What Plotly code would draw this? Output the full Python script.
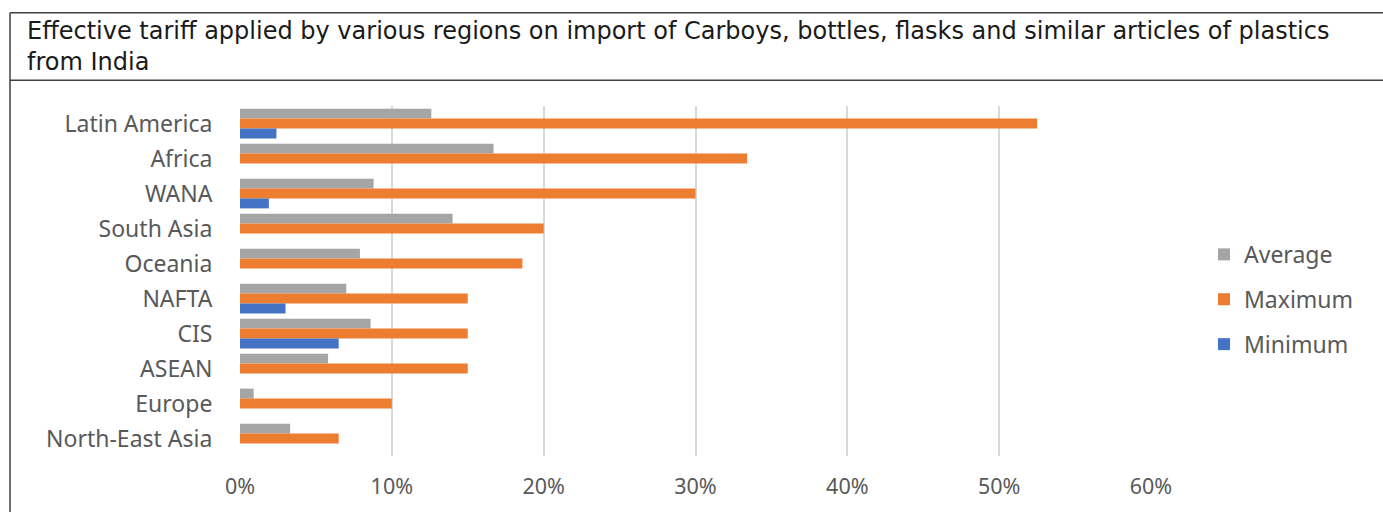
import plotly.graph_objects as go

categories = ["Latin America", "Africa", "WANA", "South Asia", "Oceania",
              "NAFTA", "CIS", "ASEAN", "Europe", "North-East Asia"]
average = [0.126, 0.167, 0.088, 0.140, 0.079, 0.070, 0.086, 0.058, 0.009, 0.033]
maximum = [0.525, 0.334, 0.300, 0.200, 0.186, 0.150, 0.150, 0.150, 0.100, 0.065]
minimum = [0.024, None, 0.019, None, None, 0.030, 0.065, None, None, None]
x_ticks = [0, 0.1, 0.2, 0.3, 0.4, 0.5, 0.6]
x_tick_labels = ["0%", "10%", "20%", "30%", "40%", "50%", "60%"]
title_lines = ["Effective tariff applied by various regions on import of Carboys, bottles, flasks and similar articles of plastics",
               "from India"]

W, H = 1383, 512
L, R, T, B = 240, 1151, 106, 459

def px(x):
    return (x - L) / (R - L)

def py(y):
    return (B - y) / (B - T)

fig = go.Figure()
series = [("Average", average, "#A5A5A5"), ("Maximum", maximum, "#ED7D31"), ("Minimum", minimum, "#4472C4")]
for name, vals, col in series:
    fig.add_trace(go.Bar(y=categories, x=vals, name=name, orientation="h",
                         marker=dict(color=col, line=dict(width=0)), legendgroup=name))

fig.update_layout(
    width=W, height=H,
    margin=dict(l=L, r=W - R, t=T, b=H - B, pad=0),
    paper_bgcolor="white", plot_bgcolor="white",
    barmode="group", bargap=0.15, bargroupgap=0,
    font=dict(family="Noto Sans", size=23, color="#595959"),
    showlegend=True,
    legend=dict(x=px(1204), xanchor="left", y=py(234), yanchor="top",
                traceorder="grouped", tracegroupgap=12,
                font=dict(size=23, color="#595959"), bgcolor="rgba(0,0,0,0)"),
    xaxis=dict(range=[0, 0.6], tickvals=x_ticks, ticktext=x_tick_labels,
               tickfont=dict(size=21.5),
               showgrid=True, gridcolor="#D9D9D9", gridwidth=2, zeroline=False,
               showline=False, ticks="outside", ticklen=11, tickcolor="rgba(0,0,0,0)",
               fixedrange=True),
    yaxis=dict(autorange="reversed", showgrid=False, zeroline=False, showline=False,
               tickfont=dict(size=23),
               ticks="outside", ticklen=22, tickcolor="rgba(0,0,0,0)"),
)

line_col = "#404040"
shapes = [
    dict(type="line", xref="paper", yref="paper", x0=px(10), x1=px(1390), y0=py(12), y1=py(12),
         line=dict(color=line_col, width=1.5)),
    dict(type="line", xref="paper", yref="paper", x0=px(10), x1=px(1390), y0=py(80), y1=py(80),
         line=dict(color=line_col, width=1.5)),
    dict(type="line", xref="paper", yref="paper", x0=px(10), x1=px(10), y0=py(12), y1=py(520),
         line=dict(color=line_col, width=1.5)),
]
fig.update_layout(shapes=shapes)

for i, t in enumerate(title_lines):
    fig.add_annotation(text=t, xref="paper", yref="paper", x=px(25), y=py(30 + 32 * i),
                       xanchor="left", yanchor="middle", showarrow=False,
                       font=dict(family="DejaVu Sans", size=24, color="#1a1a1a"))

fig.write_html("out.html")
